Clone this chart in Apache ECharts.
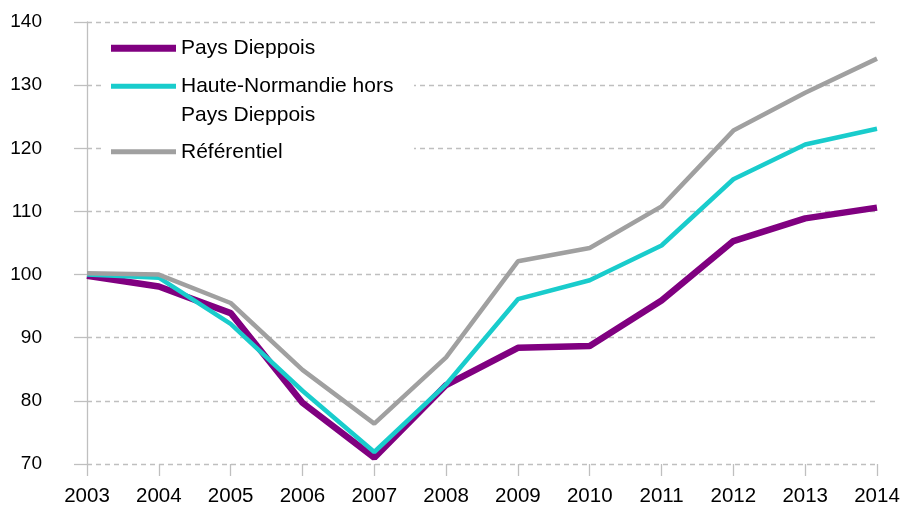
<!DOCTYPE html>
<html>
<head>
<meta charset="utf-8">
<script src="https://cdn.jsdelivr.net/npm/echarts@6/dist/echarts.min.js"></script>
<style>
html,body{margin:0;padding:0;background:#fff;}
#chart{width:904px;height:509px;}
</style>
</head>
<body>
<div id="chart"></div>
<script>
var years = ['2003','2004','2005','2006','2007','2008','2009','2010','2011','2012','2013','2014'];
var paysDieppois = [99.8, 98.1, 93.9, 79.7, 71.0, 82.5, 88.4, 88.7, 95.9, 105.3, 108.9, 110.6];
var hauteNormandie = [100.0, 99.5, 92.2, 81.6, 71.9, 82.6, 96.1, 99.1, 104.6, 115.1, 120.6, 123.1];
var referentiel = [100.2, 100.0, 95.5, 84.9, 76.4, 86.9, 102.1, 104.2, 110.8, 122.8, 128.8, 134.2];
var seriesNames = ['Pays Dieppois', 'Haute-Normandie hors Pays Dieppois', 'Référentiel'];
var yTicks = { min: 70, max: 140, interval: 10 };

var FONT = 'Liberation Sans, Arial, sans-serif';
var colors = ['#800080', '#19CCCC', '#A0A0A0'];
var widths = [6.5, 4.5, 4.5];

var chart = echarts.init(document.getElementById('chart'));
var legendBase = {
  orient: 'vertical', left: 111, padding: 0, itemWidth: 65,
  textStyle: { fontFamily: FONT, fontSize: 21, color: '#000', lineHeight: 28.5 }
};
chart.setOption({
  animation: false,
  backgroundColor: '#fff',
  graphic: [{
    type: 'rect', z: 1, silent: true,
    shape: { x: 104, y: 28, width: 310, height: 142 },
    style: { fill: '#fff' }
  }],
  legend: [
    Object.assign({}, legendBase, {
      top: 34, itemHeight: 7,
      data: [{ name: seriesNames[0], icon: 'rect' }]
    }),
    Object.assign({}, legendBase, {
      top: 43.5, itemHeight: 5,
      formatter: function () { return ' \nHaute-Normandie hors\nPays Dieppois'; },
      data: [{ name: seriesNames[1], icon: 'rect' }]
    }),
    Object.assign({}, legendBase, {
      top: 137.5, itemHeight: 5,
      data: [{ name: seriesNames[2], icon: 'rect' }]
    })
  ],
  grid: { left: 87, right: 27, top: 22, bottom: 45, containLabel: false },
  xAxis: {
    type: 'category', data: years, boundaryGap: false,
    axisLine: { show: false },
    axisTick: { show: true, length: 12, alignWithLabel: true, lineStyle: { color: '#BFBFBF', width: 1.3 } },
    axisLabel: { fontFamily: FONT, fontSize: 20.5, color: '#000', margin: 22 }
  },
  yAxis: {
    type: 'value', min: yTicks.min, max: yTicks.max, interval: yTicks.interval,
    axisLine: { show: true, lineStyle: { color: '#BFBFBF', width: 1.3 } },
    axisTick: { show: true, length: 13, lineStyle: { color: '#BFBFBF', width: 1.3 } },
    axisLabel: { fontFamily: FONT, fontSize: 19, color: '#000', margin: 45 },
    splitLine: { show: true, lineStyle: { color: '#BFBFBF', width: 1.3, type: [5, 4] } }
  },
  series: [
    { name: seriesNames[0], type: 'line', data: paysDieppois, symbol: 'none',
      color: colors[0], lineStyle: { color: colors[0], width: widths[0] } },
    { name: seriesNames[1], type: 'line', data: hauteNormandie, symbol: 'none',
      color: colors[1], lineStyle: { color: colors[1], width: widths[1] } },
    { name: seriesNames[2], type: 'line', data: referentiel, symbol: 'none',
      color: colors[2], lineStyle: { color: colors[2], width: widths[2] } }
  ]
});
</script>
</body>
</html>
